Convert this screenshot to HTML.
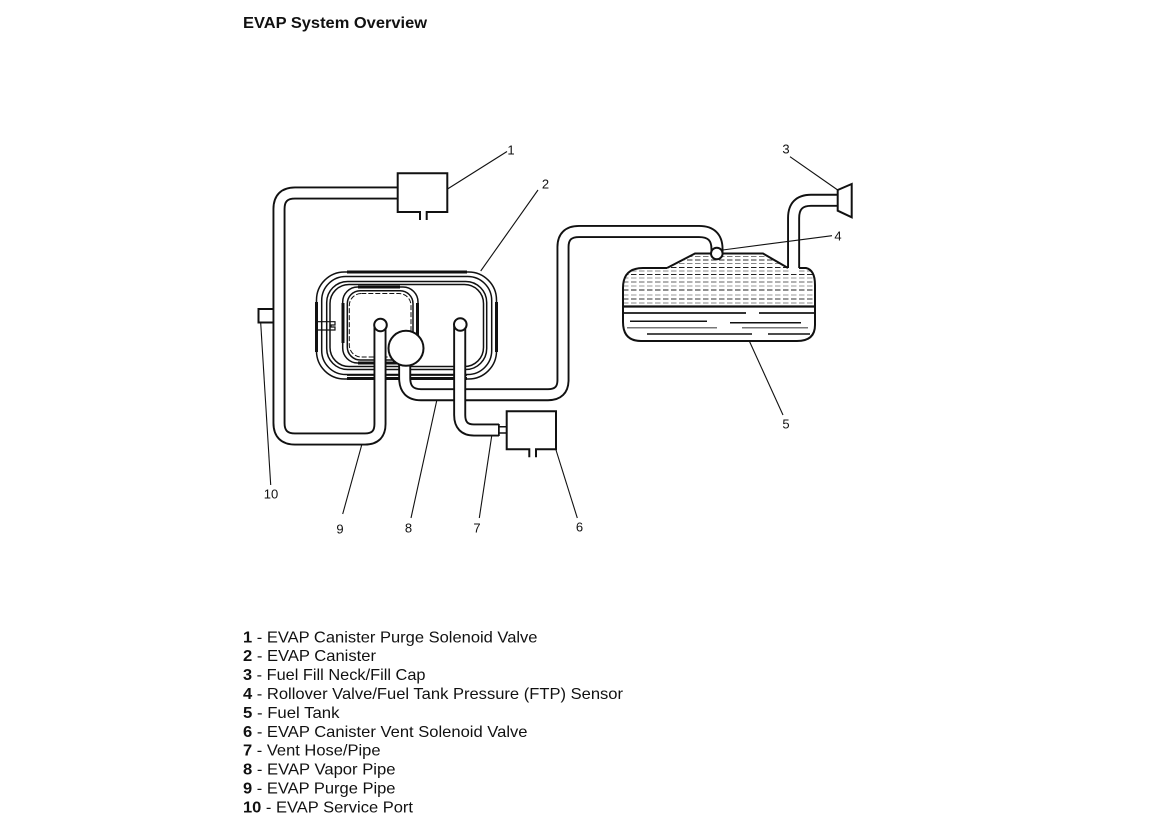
<!DOCTYPE html>
<html>
<head>
<meta charset="utf-8">
<title>EVAP System Overview</title>
<style>
html,body{margin:0;padding:0;background:#fff;width:1165px;height:831px;overflow:hidden}
svg{display:block;font-family:"Liberation Sans",Arial,sans-serif}
.lead{stroke:#111;stroke-width:1.100;fill:none}
.num{font-size:13px;fill:#111;text-anchor:middle}
.lg{font-size:16px;fill:#111}
.lg tspan{font-weight:bold}
.k{stroke:#111;fill:none;stroke-linecap:butt;stroke-linejoin:round}
.po{stroke:#111;stroke-width:13;fill:none}
.pi{stroke:#fff;stroke-width:9.200;fill:none}
</style>
</head>
<body>
<svg width="1165" height="831" viewBox="0 0 1165 831" xmlns="http://www.w3.org/2000/svg">
<defs>
<clipPath id="tc"><path d="M667,268 L695,253.500 H763 L788,268 H806 Q815,270 815,285 V325 Q815,341 797,341 H641 Q623,341 623,322 V288 Q623,268 643,268 Z"/></clipPath>
</defs>
<rect width="1165" height="831" fill="#fff"/>
<text x="243" y="28" font-size="16" font-weight="bold" fill="#111" textLength="184" lengthAdjust="spacingAndGlyphs">EVAP System Overview</text>

<!-- canister -->
<g class="k" stroke-width="1.500">
<rect x="316.500" y="272" width="180" height="107" rx="28"/>
<rect x="321.700" y="276.500" width="170" height="98" rx="24"/>
<rect x="326.700" y="281.500" width="160" height="88" rx="21"/>
<rect x="330" y="284.500" width="153.500" height="82" rx="19"/>
<rect x="342.700" y="287" width="75.300" height="76" rx="15"/>
<rect x="347.300" y="290.700" width="65.700" height="69.300" rx="13"/>
<rect x="349.300" y="293.500" width="61.700" height="63.500" rx="12" stroke-dasharray="5 2" stroke-width="1"/>
</g>
<g stroke="#111" fill="none">
<path d="M347,272 H467 M347,378.500 H467" stroke-width="3"/>
<path d="M316.500,302 V352 M496.500,302 V352" stroke-width="3"/>
<path d="M358,287 H400 M343,303 V343 M417.500,303 V336 M358,363 H400" stroke-width="3"/>
<path d="M347,375 H467" stroke-width="1.800"/>
<path d="M317,321.700 H335 V325 H331 V327 H335 V330 H317" stroke-width="1.200"/>
</g>

<!-- tank -->
<g clip-path="url(#tc)" fill="none" stroke-width="1" stroke-dasharray="5.500 2.500">
<path stroke="#777" d="M623,256.500 H815"/>
<path stroke="#333" d="M623,260 H815"/>
<path stroke="#888" d="M623,263.500 H815"/>
<path stroke="#222" d="M623,267.500 H815"/>
<path stroke="#888" d="M623,271 H815"/>
<path stroke="#222" d="M623,274.500 H815"/>
<path stroke="#999" d="M623,278 H815"/>
<path stroke="#666" d="M623,282 H815"/>
<path stroke="#999" d="M623,286 H815"/>
<path stroke="#222" d="M623,290 H815"/>
<path stroke="#999" d="M623,295 H815"/>
<path stroke="#333" d="M623,299 H815"/>
<path stroke="#888" d="M623,303 H815"/>
</g>
<path d="M667,268 L695,253.500 H763 L788,268 M799,268 H806 Q815,270 815,285 V325 Q815,341 797,341 H641 Q623,341 623,322 V288 Q623,268 643,268 H667" fill="none" stroke="#111" stroke-width="2"/>
<g fill="none" stroke="#111">
<path d="M623,306.500 H815" stroke-width="2.200"/>
<path d="M624,313 H746 M759,313 H814" stroke-width="2" stroke="#333"/>
<path d="M630,321.300 H707 M730,322.700 H801 M647,334 H752 M768,334 H810" stroke-width="1.500"/>
<path d="M627,327.700 H717 M742,327.700 H808" stroke-width="1.500" stroke="#777"/>
</g>

<!-- fill pipe and cap -->
<path class="po" d="M793.600,268 V218 Q793.600,200.300 811,200.300 H838"/>
<path class="pi" d="M793.600,272 V218 Q793.600,200.300 811,200.300 H838"/>
<path d="M837.700,190 L851.700,184 V217.300 L837.700,210.700 Z" fill="#fff" stroke="#111" stroke-width="2"/>

<!-- vapor pipe 8 -->
<path class="po" d="M404.700,362 V378 Q404.700,394.700 421,394.700 H548 Q563,394.700 563,380 V247 Q563,231.500 579,231.500 H699 Q717,231.500 717,249 V254"/>
<path class="pi" d="M404.700,362 V378 Q404.700,394.700 421,394.700 H548 Q563,394.700 563,380 V247 Q563,231.500 579,231.500 H699 Q717,231.500 717,249 V254"/>
<circle cx="716.800" cy="253.500" r="5.800" fill="#fff" stroke="#111" stroke-width="2"/>

<!-- purge pipe 9 -->
<path d="M274,309 H258.500 V322.500 H274 Z" fill="#fff" stroke="#111" stroke-width="2"/>
<path class="po" d="M398,193 H295 Q279,193 279,209 V423 Q279,439 295,439 H365 Q380,439 380,424 V326"/>
<path class="pi" d="M399,193 H295 Q279,193 279,209 V423 Q279,439 295,439 H365 Q380,439 380,424 V326"/>
<rect x="275" y="310" width="6" height="11.500" fill="#fff"/>
<circle cx="380.500" cy="325" r="6.300" fill="#fff" stroke="#111" stroke-width="2"/>

<!-- vent pipe 7 -->
<path class="po" d="M459.700,326 V415 Q459.700,430 474,430 H499"/>
<path class="pi" d="M459.700,326 V415 Q459.700,430 474,430 H498"/>
<path d="M499,424 V436" stroke="#111" stroke-width="1.500"/>
<path d="M499,426.700 H507 M499,433 H507" stroke="#111" stroke-width="1.500"/>
<circle cx="460.300" cy="324.500" r="6.300" fill="#fff" stroke="#111" stroke-width="2"/>

<!-- big circle -->
<circle cx="406" cy="348.300" r="17.500" fill="#fff" stroke="#111" stroke-width="2"/>

<!-- valves -->
<path d="M420,220 V212 H397.700 V173.300 H447.300 V212 H426.700 V220" fill="#fff" stroke="#111" stroke-width="2"/>
<path d="M529.300,457.300 V449.300 H506.700 V411.300 H556 V449.300 H536 V457.300" fill="#fff" stroke="#111" stroke-width="2"/>

<!-- leaders -->
<path class="lead" d="M447.500,189 L507,151.500"/>
<path class="lead" d="M480.700,271 L538,190"/>
<path class="lead" d="M790,156.700 L837.700,190"/>
<path class="lead" d="M722.700,250 L832,235.700"/>
<path class="lead" d="M749.300,341 L783,415"/>
<path class="lead" d="M556,450 L577.300,518"/>
<path class="lead" d="M491.700,436 L479.300,518"/>
<path class="lead" d="M436.700,400.700 L411,518"/>
<path class="lead" d="M361.700,445 L342.700,514"/>
<path class="lead" d="M260.700,323 L270.700,485"/>

<text class="num" x="511" y="154.500">1</text>
<text class="num" x="545.500" y="188.500">2</text>
<text class="num" x="786" y="153.500">3</text>
<text class="num" x="838" y="240.500">4</text>
<text class="num" x="786" y="428.500">5</text>
<text class="num" x="579.500" y="531.500">6</text>
<text class="num" x="477" y="532.500">7</text>
<text class="num" x="408.500" y="532.500">8</text>
<text class="num" x="340" y="533.500">9</text>
<text class="num" x="271" y="498.500">10</text>

<!-- legend -->
<text class="lg" x="243" y="642.300" textLength="294.500" lengthAdjust="spacingAndGlyphs"><tspan>1</tspan> - EVAP Canister Purge Solenoid Valve</text>
<text class="lg" x="243" y="661.200" textLength="133" lengthAdjust="spacingAndGlyphs"><tspan>2</tspan> - EVAP Canister</text>
<text class="lg" x="243" y="680" textLength="182.500" lengthAdjust="spacingAndGlyphs"><tspan>3</tspan> - Fuel Fill Neck/Fill Cap</text>
<text class="lg" x="243" y="699" textLength="380" lengthAdjust="spacingAndGlyphs"><tspan>4</tspan> - Rollover Valve/Fuel Tank Pressure (FTP) Sensor</text>
<text class="lg" x="243" y="717.900" textLength="96.500" lengthAdjust="spacingAndGlyphs"><tspan>5</tspan> - Fuel Tank</text>
<text class="lg" x="243" y="736.800" textLength="284.500" lengthAdjust="spacingAndGlyphs"><tspan>6</tspan> - EVAP Canister Vent Solenoid Valve</text>
<text class="lg" x="243" y="755.600" textLength="137.500" lengthAdjust="spacingAndGlyphs"><tspan>7</tspan> - Vent Hose/Pipe</text>
<text class="lg" x="243" y="774.500" textLength="152.500" lengthAdjust="spacingAndGlyphs"><tspan>8</tspan> - EVAP Vapor Pipe</text>
<text class="lg" x="243" y="793.400" textLength="152.500" lengthAdjust="spacingAndGlyphs"><tspan>9</tspan> - EVAP Purge Pipe</text>
<text class="lg" x="243" y="812.300" textLength="170" lengthAdjust="spacingAndGlyphs"><tspan>10</tspan> - EVAP Service Port</text>
</svg>
</body>
</html>
